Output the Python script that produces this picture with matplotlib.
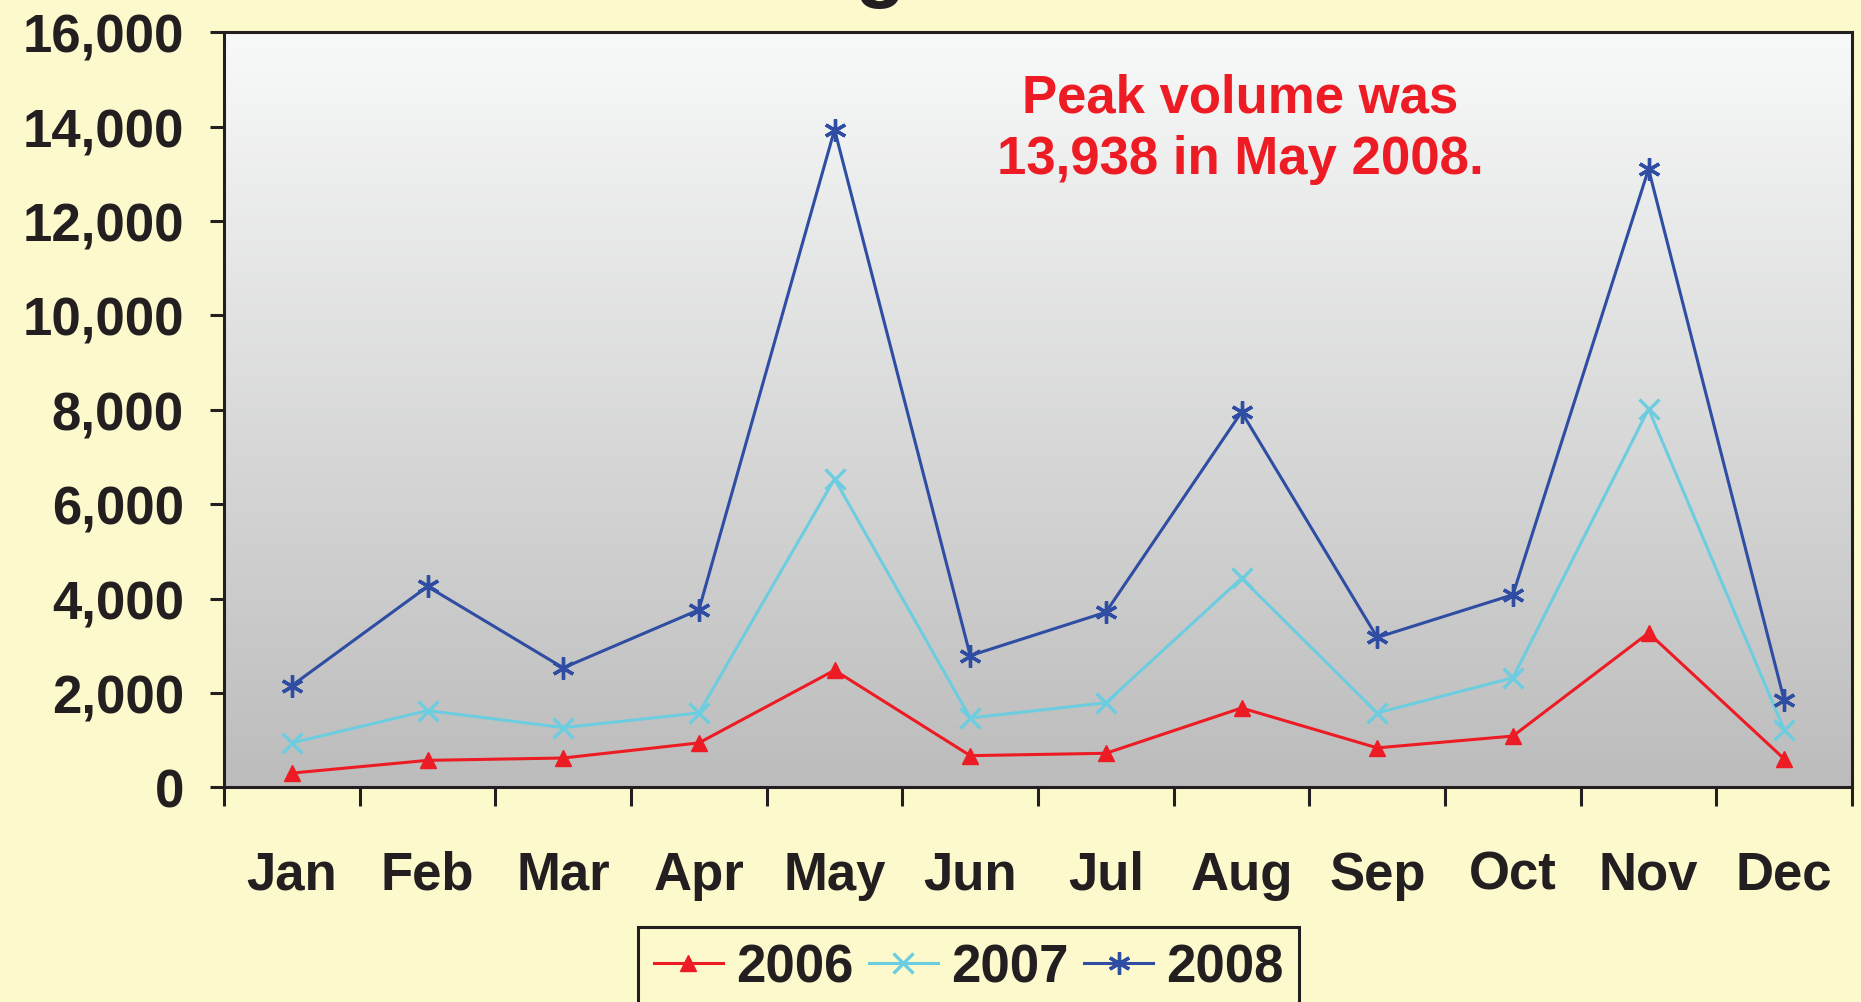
import matplotlib
matplotlib.use("Agg")
import matplotlib.pyplot as plt
import numpy as np

# Monthly volumes
months = ['Jan', 'Feb', 'Mar', 'Apr', 'May', 'Jun', 'Jul', 'Aug', 'Sep', 'Oct', 'Nov', 'Dec']
vol_2006 = [300, 570, 620, 940, 2480, 670, 720, 1680, 835, 1085, 3270, 600]
vol_2007 = [940, 1625, 1265, 1575, 6534, 1470, 1790, 4430, 1575, 2320, 8017, 1215]
vol_2008 = [2155, 4255, 2530, 3760, 13938, 2790, 3710, 7953, 3175, 4080, 13103, 1840]
y_ticks = [0, 2000, 4000, 6000, 8000, 10000, 12000, 14000, 16000]
note = "Peak volume was\n13,938 in May 2008."

BG = '#FCF9CC'
INK = '#231F20'

plt.rcParams['font.family'] = ['Liberation Sans', 'DejaVu Sans']
plt.rcParams['font.weight'] = 'bold'

fig = plt.figure(figsize=(18.61, 10.03), dpi=100, facecolor=BG)
ax = fig.add_axes([0.1204, 0.2141, 0.8748, 0.7527])

# grey gradient plot area
grad = np.linspace(0, 1, 256).reshape(-1, 1)
ax.imshow(grad, extent=[0, 1, 0, 1], transform=ax.transAxes, aspect='auto',
          cmap=matplotlib.colors.LinearSegmentedColormap.from_list('g', ['#BCBCBC', '#F8F9F9']),
          origin='lower', zorder=0)

x = np.arange(1, len(months) + 1)
ax.plot(x, vol_2006, color='#ED1C24', lw=2.2, marker='^', ms=12, label='2006', zorder=3)
ax.plot(x, vol_2007, color='#6DCDE0', lw=2.2, marker='x', ms=14, mew=2.4, label='2007', zorder=3)
ax.plot(x, vol_2008, color='#2E4DA3', lw=2.2, marker=(6, 2, 0), ms=16, mew=2.4, label='2008', zorder=3)

ax.set_xlim(0.5, len(months) + 0.5)
ax.set_ylim(0, 16000)
ax.set_yticks(y_ticks)
ax.set_yticklabels([f"{v:,}" for v in y_ticks])
ax.set_xticks(np.arange(0.5, len(months) + 1))
ax.set_xticklabels([])
ax.set_xticks(x, minor=True)
ax.set_xticklabels(months, minor=True)

for s in ax.spines.values():
    s.set_color(INK)
    s.set_linewidth(2.2)
ax.tick_params(axis='y', direction='out', length=10, width=2.2, color=INK,
               labelsize=38, labelcolor=INK, pad=19)
ax.tick_params(axis='x', which='major', direction='out', length=14, width=2.2, color=INK)
ax.tick_params(axis='x', which='minor', length=0, labelsize=38, labelcolor=INK, pad=45)

ax.text(0.6242, 0.873, note, transform=ax.transAxes, ha='center', va='center',
        color='#ED1C24', fontsize=38, fontweight='bold', linespacing=1.3, zorder=4)

# clipped bit of the slide title above the chart
fig.text(880 / 1861, 1.008, 'g', ha='center', va='baseline', fontsize=60,
         fontweight='bold', color=INK)

leg = fig.legend(loc='upper left', bbox_to_anchor=(0.343, 0.0748), ncol=3, fontsize=38,
                 frameon=True, fancybox=False, facecolor=BG, edgecolor=INK,
                 handlelength=1.3, handletextpad=0.25, columnspacing=0.3,
                 borderpad=0.3, borderaxespad=0, framealpha=1)
leg.get_frame().set_linewidth(2.2)
for t in leg.get_texts():
    t.set_color(INK)

fig.savefig('out.png', dpi=100, facecolor=BG)
